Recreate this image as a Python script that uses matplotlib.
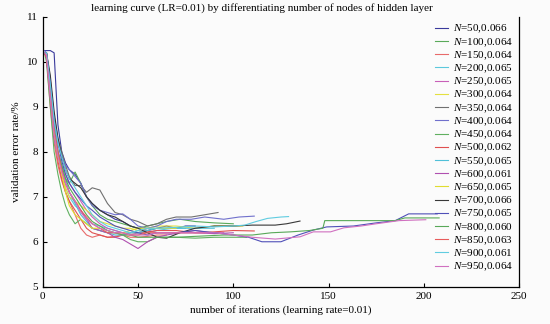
import matplotlib
matplotlib.use('Agg')
import matplotlib.pyplot as plt

plt.rcParams['font.family'] = ['Liberation Serif', 'DejaVu Serif']
plt.rcParams['mathtext.fontset'] = 'custom'
plt.rcParams['mathtext.rm'] = 'Liberation Serif'
plt.rcParams['mathtext.it'] = 'Liberation Serif:italic'

# shared grid for the first 60 iterations
x_head = [1, 2, 4, 6, 8, 10, 12, 14, 17, 20, 23, 26, 30, 34, 38, 42, 46, 50, 55, 60]

nodes = [50, 100, 150, 200, 250, 300, 350, 400, 450, 500, 550, 600, 650, 700, 750, 800, 850, 900, 950]
best_err = ['0.066', '0.064', '0.064', '0.065', '0.065', '0.064', '0.064', '0.064', '0.064', '0.062',
            '0.065', '0.061', '0.065', '0.066', '0.065', '0.060', '0.063', '0.061', '0.064']

# validation error (%) - head part on x_head, tail part on own iterations
y_50 = [10.25, 10.25, 10.25, 10.2, 8.6, 8.0, 7.75, 7.6, 7.5, 7.3, 7.0, 6.85, 6.7, 6.6, 6.5, 6.45, 6.35, 6.3, 6.25, 6.3]
tx_50, ty_50 = [65, 70, 75, 80], [6.35, 6.3, 6.35, 6.35]
y_100 = [10.2, 10.15, 9.2, 8.4, 7.9, 7.6, 7.4, 7.3, 7.55, 7.3, 7.0, 6.8, 6.6, 6.5, 6.45, 6.4, 6.35, 6.3, 6.35, 6.4]
tx_100, ty_100 = [65, 72, 80, 90, 100], [6.45, 6.5, 6.45, 6.42, 6.4]
y_150 = [10.2, 10.1, 9.0, 8.2, 7.7, 7.35, 7.1, 6.9, 6.6, 6.3, 6.15, 6.1, 6.15, 6.1, 6.12, 6.15, 6.1, 6.1, 6.12, 6.15]
tx_150, ty_150 = [65], [6.15]
y_200 = [10.2, 10.2, 9.6, 8.7, 8.0, 7.6, 7.2, 7.0, 6.8, 6.7, 6.5, 6.4, 6.35, 6.3, 6.25, 6.2, 6.2, 6.25, 6.2, 6.25]
tx_200, ty_200 = [68, 75], [6.3, 6.3]
y_250 = [10.2, 10.1, 9.3, 8.5, 8.0, 7.7, 7.5, 7.3, 7.1, 6.9, 6.7, 6.55, 6.4, 6.3, 6.25, 6.2, 6.15, 6.2, 6.25, 6.2]
tx_250, ty_250 = [70, 80, 88, 95], [6.2, 6.25, 6.2, 6.2]
y_300 = [10.2, 10.2, 9.5, 8.6, 8.0, 7.5, 7.2, 7.0, 6.9, 6.8, 6.7, 6.6, 6.45, 6.4, 6.35, 6.3, 6.3, 6.25, 6.3, 6.35]
tx_300, ty_300 = [70, 80, 90, 105], [6.35, 6.3, 6.35, 6.35]
y_350 = [10.2, 10.2, 9.5, 8.8, 8.3, 8.0, 7.7, 7.45, 7.25, 7.25, 7.1, 7.2, 7.15, 6.85, 6.65, 6.6, 6.5, 6.45, 6.35, 6.4]
tx_350, ty_350 = [65, 70, 78, 85, 92], [6.5, 6.55, 6.55, 6.6, 6.65]
y_400 = [10.25, 10.2, 9.6, 8.8, 8.2, 7.9, 7.7, 7.6, 7.45, 7.3, 7.0, 6.8, 6.7, 6.65, 6.6, 6.62, 6.5, 6.35, 6.3, 6.35]
tx_400, ty_400 = [65, 70, 78, 85, 95, 103, 111], [6.45, 6.5, 6.5, 6.55, 6.5, 6.55, 6.57]
y_450 = [10.2, 10.0, 9.0, 8.0, 7.5, 7.1, 6.8, 6.6, 6.4, 6.5, 6.4, 6.3, 6.25, 6.2, 6.2, 6.15, 6.05, 6.0, 6.0, 6.1]
tx_450, ty_450 = [70, 80, 90, 100, 107], [6.1, 6.08, 6.1, 6.1, 6.1]
y_500 = [10.2, 10.1, 9.2, 8.4, 7.8, 7.4, 7.1, 6.9, 6.7, 6.5, 6.3, 6.2, 6.15, 6.1, 6.1, 6.15, 6.2, 6.2, 6.22, 6.25]
tx_500, ty_500 = [70, 80, 90, 100, 111], [6.25, 6.2, 6.22, 6.25, 6.24]
y_550 = [10.2, 10.2, 9.4, 8.6, 8.0, 7.7, 7.4, 7.1, 6.85, 6.6, 6.45, 6.3, 6.25, 6.2, 6.15, 6.15, 6.2, 6.2, 6.25, 6.3]
tx_550, ty_550 = [70, 80, 90], [6.3, 6.3, 6.3]
y_600 = [10.2, 10.1, 9.2, 8.3, 7.9, 7.6, 7.3, 7.1, 6.9, 6.7, 6.5, 6.3, 6.25, 6.2, 6.1, 6.05, 5.95, 5.85, 6.0, 6.1]
tx_600, ty_600 = [65, 72, 80, 90, 100], [6.15, 6.2, 6.2, 6.18, 6.2]
y_650 = [10.2, 10.2, 9.3, 8.4, 7.9, 7.5, 7.1, 6.8, 6.6, 6.5, 6.4, 6.3, 6.3, 6.25, 6.2, 6.2, 6.25, 6.3, 6.3, 6.3]
tx_650, ty_650 = [70], [6.3]
y_700 = [10.2, 10.2, 9.7, 8.9, 8.3, 7.9, 7.6, 7.4, 7.3, 7.2, 7.0, 6.85, 6.7, 6.6, 6.55, 6.45, 6.35, 6.3, 6.2, 6.1]
tx_700, ty_700 = [65, 72, 80, 90, 100, 110, 122, 128, 135], [6.08, 6.2, 6.3, 6.35, 6.35, 6.37, 6.37, 6.4, 6.46]
y_750 = [10.2, 10.2, 9.5, 8.7, 8.2, 7.8, 7.5, 7.3, 7.1, 6.95, 6.8, 6.7, 6.55, 6.45, 6.35, 6.3, 6.25, 6.2, 6.15, 6.2]
tx_750 = [70, 80, 90, 100, 108, 115, 125, 134, 142, 149, 163, 175, 185, 192, 207]
ty_750 = [6.2, 6.25, 6.2, 6.15, 6.1, 6.0, 6.0, 6.15, 6.26, 6.33, 6.35, 6.42, 6.47, 6.62, 6.62]
y_800 = [10.2, 10.15, 9.3, 8.5, 8.0, 7.7, 7.4, 7.2, 7.0, 6.8, 6.6, 6.45, 6.35, 6.25, 6.2, 6.15, 6.15, 6.1, 6.1, 6.1]
tx_800 = [70, 80, 95, 110, 120, 130, 140, 147, 148, 160, 185, 190, 208]
ty_800 = [6.1, 6.12, 6.15, 6.15, 6.2, 6.22, 6.25, 6.3, 6.47, 6.47, 6.47, 6.53, 6.53]
y_850 = [10.2, 10.1, 9.3, 8.5, 8.0, 7.6, 7.3, 7.1, 6.9, 6.7, 6.55, 6.4, 6.3, 6.2, 6.2, 6.2, 6.15, 6.15, 6.2, 6.2]
tx_850, ty_850 = [70, 78, 85], [6.2, 6.2, 6.2]
y_900 = [10.2, 10.2, 9.5, 8.7, 8.2, 7.9, 7.6, 7.4, 7.2, 7.0, 6.8, 6.6, 6.45, 6.35, 6.3, 6.25, 6.2, 6.25, 6.3, 6.3]
tx_900 = [70, 80, 90, 100, 106, 112, 118, 125, 129]
ty_900 = [6.32, 6.35, 6.33, 6.35, 6.37, 6.45, 6.52, 6.55, 6.56]
y_950 = [10.2, 10.15, 9.2, 8.4, 7.9, 7.55, 7.3, 7.1, 6.9, 6.65, 6.5, 6.4, 6.3, 6.25, 6.2, 6.2, 6.15, 6.15, 6.15, 6.2]
tx_950 = [70, 80, 90, 100, 110, 122, 135, 142, 151, 158, 167, 175, 187, 201]
ty_950 = [6.2, 6.2, 6.2, 6.15, 6.1, 6.06, 6.11, 6.22, 6.22, 6.31, 6.35, 6.4, 6.47, 6.49]

heads = [y_50, y_100, y_150, y_200, y_250, y_300, y_350, y_400, y_450, y_500,
         y_550, y_600, y_650, y_700, y_750, y_800, y_850, y_900, y_950]
tails_x = [tx_50, tx_100, tx_150, tx_200, tx_250, tx_300, tx_350, tx_400, tx_450, tx_500,
           tx_550, tx_600, tx_650, tx_700, tx_750, tx_800, tx_850, tx_900, tx_950]
tails_y = [ty_50, ty_100, ty_150, ty_200, ty_250, ty_300, ty_350, ty_400, ty_450, ty_500,
           ty_550, ty_600, ty_650, ty_700, ty_750, ty_800, ty_850, ty_900, ty_950]

colores = ['#3a3a9c', '#5aaa5a', '#e86a6a', '#5cc8dc', '#c860b8', '#e4e040', '#707070',
           '#7070cc', '#60b060', '#e05050', '#50c0d8', '#b050b0', '#e0dc30', '#383838',
           '#5050b8', '#58a858', '#e85c5c', '#60cce0', '#d070c0']

fig = plt.figure(figsize=(5.5, 3.24), dpi=100, facecolor='#fbfbfb')
ax = fig.add_axes([0.0776, 0.115, 0.8664, 0.833])
ax.set_facecolor('#fbfbfb')

for i, n in enumerate(nodes):
    xs = x_head + tails_x[i]
    ys = heads[i] + tails_y[i]
    ax.plot(xs, ys, color=colores[i], lw=0.8, label=r'$N$=%d,%s' % (n, best_err[i]))

ax.set_xlim(0, 250)
ax.set_ylim(5, 11)
ax.set_xticks([0, 50, 100, 150, 200, 250])
ax.set_yticks([5, 6, 7, 8, 9, 10, 11])
ax.tick_params(direction='in', length=3, labelsize=8, width=0.8)
ax.spines['top'].set_visible(False)
for s in ['left', 'right', 'bottom']:
    ax.spines[s].set_linewidth(0.9)

ax.set_xlabel('number of iterations (learning rate=0.01)', fontsize=8, labelpad=3)
ax.set_ylabel('validation error rate/%', fontsize=8, labelpad=4)
fig.text(262 / 550, 0.975, 'learning curve (LR=0.01) by differentiating number of nodes of hidden layer',
         ha='center', va='center', fontsize=8)

ax.legend(loc='upper right', bbox_to_anchor=(1.0, 1.0), frameon=False, fontsize=8,
          handlelength=1.2, handletextpad=0.4, labelspacing=0.07, borderaxespad=0.15)

fig.savefig('out.png', dpi=100, facecolor=fig.get_facecolor())
